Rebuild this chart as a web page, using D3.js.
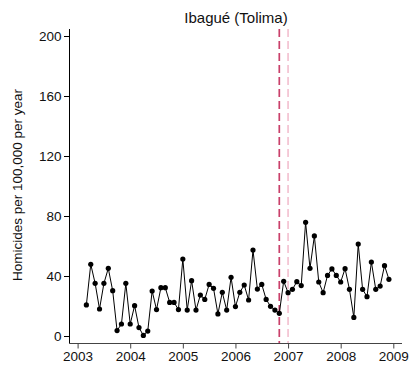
<!DOCTYPE html>
<html>
<head>
<meta charset="utf-8">
<script src="https://cdn.jsdelivr.net/npm/d3@7"></script>
<style>
  html, body { margin: 0; padding: 0; background: #fff; }
  svg { display: block; font-family: "Liberation Sans", Arial, sans-serif; }
</style>
</head>
<body>
<svg id="chart" width="409" height="367"></svg>
<script>
// Monthly homicide rate, Ibagué (Tolima), March 2003 – December 2008
const startYear = 2003;
const startMonth = 2; // March (0-based)
const rates = [
  20.7, 47.8, 35.1, 18.0, 35.1, 45.1, 30.2, 3.6, 8.0, 35.1,
  8.0, 20.2, 5.6, 0.4, 3.3, 30.0, 17.6, 32.2, 32.2, 22.4,
  22.4, 17.6, 51.3, 17.3, 36.9, 17.3, 27.3, 24.4, 34.4, 31.8,
  14.7, 29.1, 17.3, 39.1, 19.6, 29.1, 34.0, 24.0, 57.3, 31.3,
  34.4, 24.4, 19.8, 17.3, 15.1, 36.5, 28.9, 31.1, 36.2, 33.6,
  75.8, 45.1, 66.7, 36.0, 28.9, 40.4, 44.7, 40.4, 36.0, 44.9,
  31.1, 12.4, 61.3, 31.1, 26.2, 49.3, 31.1, 33.3, 46.9, 37.8
];
const yTicks = [0, 40, 80, 120, 160, 200];
const xTicks = [2003, 2004, 2005, 2006, 2007, 2008, 2009];
const eventLines = [
  { date: 2006 + 10 / 12, color: "#c9406a" },  // Nov 2006
  { date: 2007.0, color: "#f4c2d2" }           // Jan 2007
];
const title = "Ibagué (Tolima)";
const yLabel = "Homicides per 100,000 per year";

const data = rates.map((v, i) => ({ t: startYear + (startMonth + i) / 12, v }));

const svg = d3.select("#chart");
const x = d3.scaleLinear().domain([2003, 2009]).range([77.6, 393.3]);
const y = d3.scaleLinear().domain([0, 200]).range([336, 36]);

const axisY = 343.5, axisX = 69.5, plotTop = 29;
const font = "'Liberation Sans', Arial, sans-serif";

// event markers
svg.selectAll("line.event").data(eventLines).enter().append("line")
  .attr("class", "event")
  .attr("x1", d => x(d.date)).attr("x2", d => x(d.date))
  .attr("y1", plotTop).attr("y2", axisY)
  .attr("stroke", d => d.color)
  .attr("stroke-width", 1.7)
  .attr("stroke-dasharray", "8,4");

// axes
const gx = svg.append("g").attr("transform", `translate(0,${axisY})`)
  .call(d3.axisBottom(x).tickValues(xTicks).tickFormat(d3.format("d")).tickSize(5).tickPadding(3).tickSizeOuter(0));
gx.select(".domain").attr("d", `M${axisX},0H402`).attr("stroke", "#444");
gx.selectAll(".tick line").attr("stroke", "#444");
gx.selectAll("text").attr("font-size", 13.5).attr("fill", "#111").attr("font-family", font);

const gy = svg.append("g").attr("transform", `translate(${axisX},0)`)
  .call(d3.axisLeft(y).tickValues(yTicks).tickSize(5.5).tickPadding(2.5).tickSizeOuter(0));
gy.select(".domain").attr("d", `M0,${plotTop}V${axisY}`).attr("stroke", "#000");
gy.selectAll(".tick line").attr("stroke", "#000");
gy.selectAll("text").attr("font-size", 13.5).attr("fill", "#111").attr("font-family", font);

// series
svg.append("path").datum(data)
  .attr("fill", "none").attr("stroke", "#000").attr("stroke-width", 1)
  .attr("d", d3.line().x(d => x(d.t)).y(d => y(d.v)));

svg.selectAll("circle.pt").data(data).enter().append("circle")
  .attr("class", "pt")
  .attr("cx", d => x(d.t)).attr("cy", d => y(d.v)).attr("r", 2.6)
  .attr("fill", "#000");

// title and y label
svg.append("text").attr("x", 236).attr("y", 23).attr("text-anchor", "middle")
  .attr("font-size", 15).attr("fill", "#111").attr("font-family", font).text(title);

svg.append("text").attr("transform", `translate(22,185) rotate(-90)`)
  .attr("text-anchor", "middle").attr("font-size", 13.5).attr("fill", "#111")
  .attr("font-family", font).text(yLabel);
</script>
</body>
</html>
